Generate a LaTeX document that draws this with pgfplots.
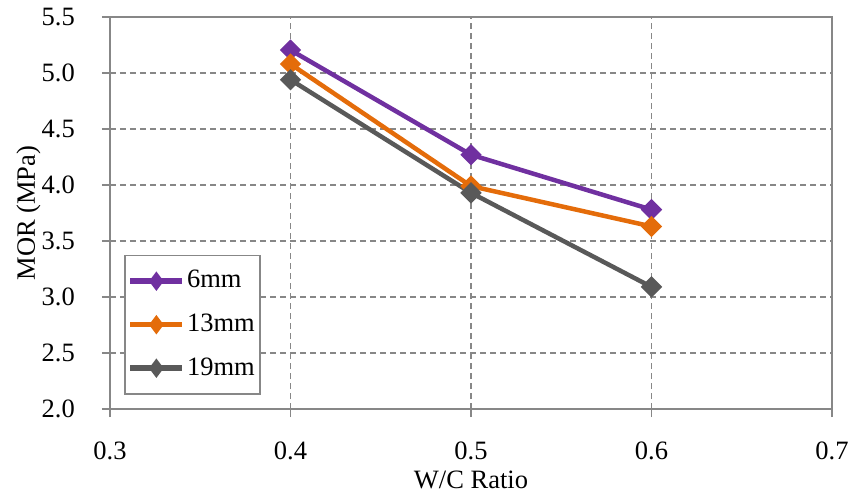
\documentclass[border=0pt]{standalone}
\usepackage{fontspec}
\setmainfont{Liberation Serif}
\usepackage{pgfplots}
\pgfplotsset{compat=1.18}
\definecolor{cpurple}{HTML}{7030A0}
\definecolor{corange}{HTML}{E46C0A}
\definecolor{cgray}{HTML}{595959}
\definecolor{gridgray}{HTML}{878787}

\begin{document}
\fontsize{26.5bp}{32bp}\selectfont
\begin{tikzpicture}
\begin{axis}[
    scale only axis,
    width=722bp, height=392bp,
    xmin=0.3, xmax=0.7,
    ymin=2, ymax=5.5,
    xtick={0.3,0.4,0.5,0.6,0.7},
    ytick={2,2.5,3,3.5,4,4.5,5,5.5},
    /pgf/number format/assume math mode=true,
    /pgf/number format/fixed,
    /pgf/number format/fixed zerofill,
    /pgf/number format/precision=1,
    axis line style={gridgray, line width=1.8bp},
    grid=major,
    grid style={gridgray, line width=1.8bp, dash pattern=on 6bp off 4bp},
    tick style={gridgray, line width=1.8bp},
    tick align=outside,
    major tick length=8bp,
    xtick pos=bottom, ytick pos=left,
    xticklabel style={font=\fontsize{26.5bp}{32bp}\selectfont, anchor=base, inner sep=0pt, yshift=-42.5bp},
    yticklabel style={font=\fontsize{26.5bp}{32bp}\selectfont, anchor=east, inner sep=0pt, xshift=-27bp},
    xlabel={W/C Ratio},
    ylabel={MOR (MPa)},
    every axis x label/.style={at={([yshift=-79bp]axis description cs:0.5,0)}, anchor=base, inner sep=0pt, font=\fontsize{26.5bp}{32bp}\selectfont},
    every axis y label/.style={at={([xshift=-75bp]axis description cs:0,0.5)}, rotate=90, anchor=base, inner sep=0pt, font=\fontsize{26.5bp}{32bp}\selectfont},
    legend style={at={(rel axis cs:0.019,0.036)}, anchor=south west,
        draw=gridgray, line width=1.8bp, fill=white,
        font=\fontsize{26.5bp}{32bp}\selectfont, row sep=18bp,
        nodes={inner sep=2bp},
        inner xsep=3bp, inner ysep=13bp},
    legend cell align=left,
    legend image code/.code={%
        \draw[#1, line width=5.5bp] (0bp,0bp) -- (52bp,0bp);
        \draw[#1, mark=diamond*, mark size=6bp, mark options={rotate=0}] plot coordinates {(26bp,0bp)};},
    every axis plot/.append style={line width=4.5bp, mark=square*, mark size=5.3bp, mark options={rotate=45, solid}},
]
\addplot[color=cpurple] coordinates {(0.4,5.205)(0.5,4.27)(0.6,3.78)};
\addlegendentry{6mm}
\addplot[color=corange] coordinates {(0.4,5.08)(0.5,3.99)(0.6,3.63)};
\addlegendentry{13mm\hspace{6bp}}
\addplot[color=cgray] coordinates {(0.4,4.94)(0.5,3.93)(0.6,3.09)};
\addlegendentry{19mm\hspace{6bp}}
\coordinate (SW) at (rel axis cs:0,0);
\coordinate (NE) at (rel axis cs:1,1);
\end{axis}
\pgfresetboundingbox
\path ([shift={(-110bp,-85bp)}]SW) rectangle ([shift={(21bp,17bp)}]NE);
\end{tikzpicture}
\end{document}
